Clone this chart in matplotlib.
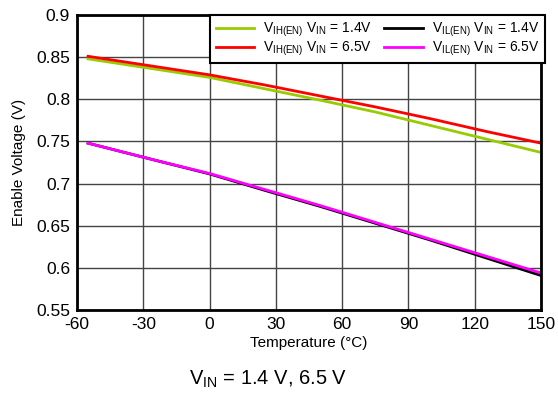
import matplotlib.pyplot as plt

# temperature points (deg C)
temp = [-55, -40, -25, 0, 25, 50, 75, 100, 125, 150]

# enable thresholds (V)
vih_14 = [0.848, 0.842, 0.836, 0.826, 0.8125, 0.799, 0.785, 0.769, 0.753, 0.737]
vih_65 = [0.851, 0.845, 0.839, 0.829, 0.817, 0.804, 0.791, 0.777, 0.762, 0.748]
vil_14 = [0.748, 0.738, 0.728, 0.7115, 0.692, 0.673, 0.653, 0.633, 0.612, 0.591]
vil_65 = [0.748, 0.738, 0.728, 0.712, 0.693, 0.674, 0.654, 0.634, 0.614, 0.594]

labels = [r"V$_{\mathregular{IH(EN)}}$ $\mathregular{V_{IN}}$ = 1.4V",
          r"V$_{\mathregular{IH(EN)}}$ $\mathregular{V_{IN}}$ = 6.5V",
          r"V$_{\mathregular{IL(EN)}}$ $\mathregular{V_{IN}}$ = 1.4V",
          r"V$_{\mathregular{IL(EN)}}$ $\mathregular{V_{IN}}$ = 6.5V"]

plt.rcParams['font.family'] = ['Liberation Sans', 'DejaVu Sans']
plt.rcParams['axes.unicode_minus'] = False

fig = plt.figure(figsize=(5.58, 3.95), dpi=100)
ax = fig.add_axes([0.138, 0.215, 0.8315, 0.747])

ax.plot(temp, vih_14, color="#99cc00", lw=2, label=labels[0])
ax.plot(temp, vih_65, color="#ff0000", lw=2, label=labels[1])
ax.plot(temp, vil_14, color="black", lw=2, label=labels[2])
ax.plot(temp, vil_65, color="#ff00ff", lw=2, label=labels[3])

ax.set_xlim(-60, 150)
ax.set_ylim(0.55, 0.9)
ax.set_xticks([-60, -30, 0, 30, 60, 90, 120, 150])
ax.set_yticks([0.55, 0.6, 0.65, 0.7, 0.75, 0.8, 0.85, 0.9])
ax.set_yticklabels(["0.55", "0.6", "0.65", "0.7", "0.75", "0.8", "0.85", "0.9"])
ax.tick_params(length=0, labelsize=12.5, pad=5)
ax.grid(True, color="#444444", lw=1)
for s in ax.spines.values():
    s.set_linewidth(2)

ax.set_xlabel("Temperature (°C)", fontsize=11, labelpad=3)
ax.set_ylabel("Enable Voltage (V)", fontsize=11, labelpad=7)

leg = ax.legend(ncol=2, loc="upper right", bbox_to_anchor=(1.008, 1.0), fontsize=10,
                handlelength=2.8, handletextpad=0.6, columnspacing=0.9,
                labelspacing=0.05, borderpad=0.4, borderaxespad=0,
                fancybox=False, framealpha=1, edgecolor="black")
leg.get_frame().set_linewidth(1.5)

fig.text(0.48, 0.025, r"V$_{\mathregular{IN}}$ = 1.4 V, 6.5 V", ha="center", fontsize=14.5)

plt.savefig("out.png", dpi=100)
